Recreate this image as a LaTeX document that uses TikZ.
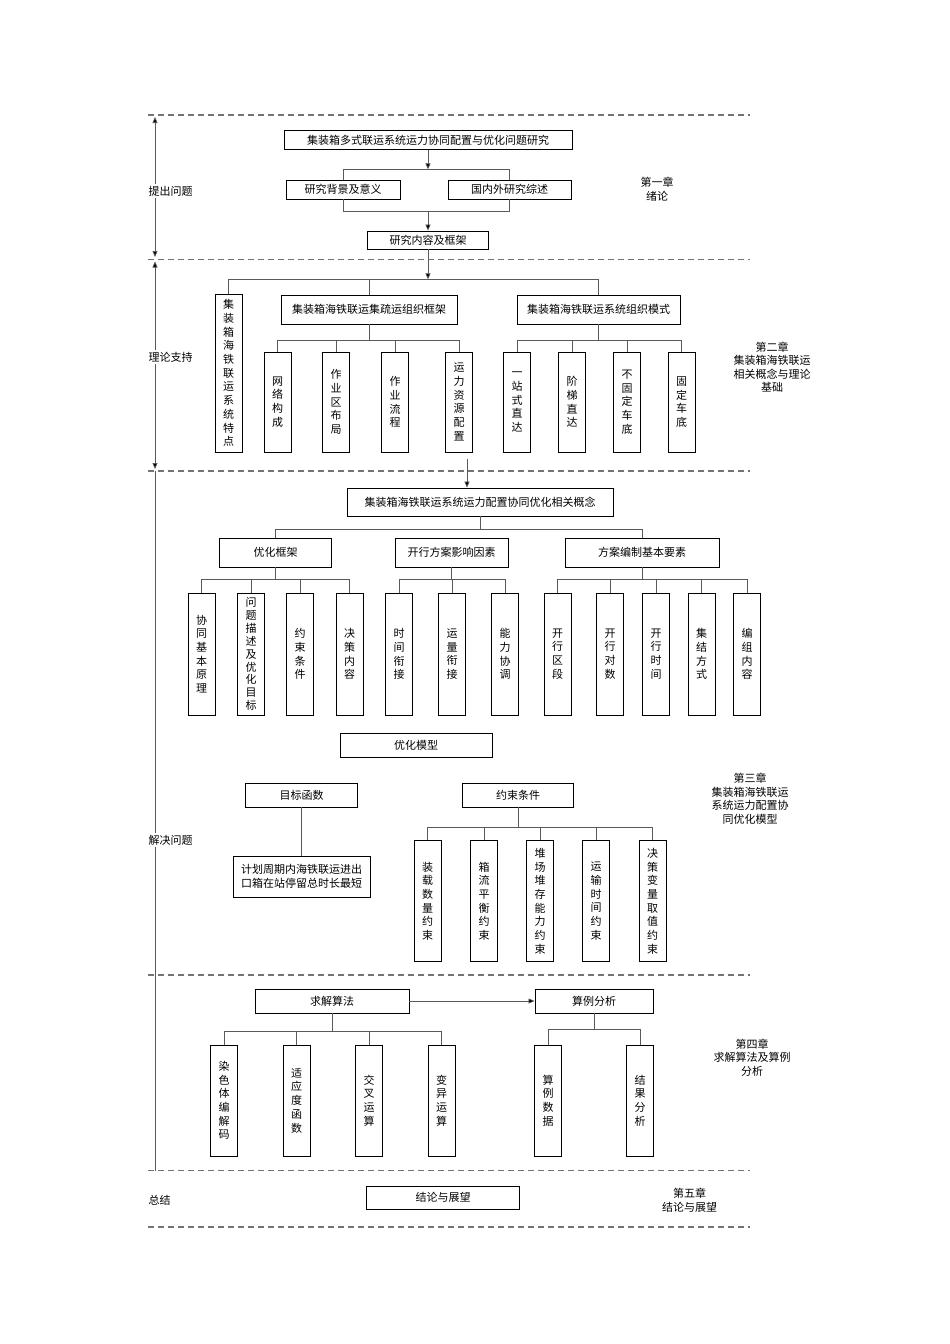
\documentclass[tikz,border=0pt]{standalone}
\usepackage{fontspec}
\setmainfont{Noto Sans CJK SC}
\usetikzlibrary{arrows.meta}
\begin{document}
\begin{tikzpicture}[x=1pt,y=-1pt,
  hbox/.style={draw=black,line width=0.9pt,inner sep=0pt,font=\fontsize{11}{13.5}\selectfont,align=center},
  vbox/.style={draw=black,line width=0.9pt,inner sep=0pt,minimum width=27pt,font=\fontsize{11}{13.7}\selectfont,align=center},
  conn/.style={draw=black!65,line width=0.7pt},
  arr/.style={conn,-{Triangle[width=5pt,length=6pt,fill=black]}},
  darr/.style={conn,{Triangle[width=5pt,length=6pt,fill=black]}-{Triangle[width=5pt,length=6pt,fill=black]}},
  sepline/.style={draw=black!55,line width=1.2pt,dash pattern=on 6pt off 4pt},
  lab/.style={font=\fontsize{11}{13.5}\selectfont,align=center},
  sidelab/.style={font=\fontsize{11}{13.5}\selectfont,fill=white,inner sep=1.5pt,anchor=west}]
\useasboundingbox[fill=white] (0,0) rectangle (950,1344);

% ---------- separators ----------
\draw[sepline] (148,115) -- (750,115);
\draw[sepline] (148,259.3) -- (750,259.3);
\draw[sepline] (148,471) -- (750,471);
\draw[sepline] (148,975) -- (750,975);
\draw[sepline] (148,1170.7) -- (750,1170.7);
\draw[sepline] (148,1227) -- (750,1227);

% ---------- left axis ----------
\coordinate (p1) at (155,117);
\coordinate (p2) at (155,257);
\coordinate (p3) at (155,261.5);
\coordinate (p4) at (155,469);
\coordinate (p5) at (155,471);
\coordinate (p6) at (155,1170.7);
\draw[darr] (p1) -- (p2);
\draw[darr] (p3) -- (p4);
\draw[conn] (p5) -- (p6);
\node[sidelab] (L1) at (147,191) {提出问题};
\node[sidelab] (L2) at (147,357) {理论支持};
\node[sidelab] (L3) at (147,840) {解决问题};
\node[sidelab] (L4) at (147,1200) {总结};

% ---------- chapter labels ----------
\node[lab] (C1) at (657,189) {第一章\\绪论};
\node[lab] (C2) at (772,367) {第二章\\集装箱海铁联运\\相关概念与理论\\基础};
\node[lab] (C3) at (750,798.5) {第三章\\集装箱海铁联运\\系统运力配置协\\同优化模型};
\node[lab] (C4) at (752,1057.5) {第四章\\求解算法及算例\\分析};
\node[lab] (C5) at (689.5,1200) {第五章\\结论与展望};

% ---------- chapter 1 ----------
\node[hbox,minimum width=288pt,minimum height=19pt] (t1) at (428,140) {集装箱多式联运系统运力协同配置与优化问题研究};
\node[hbox,minimum width=114pt,minimum height=19pt] (b1) at (343,189.5) {研究背景及意义};
\node[hbox,minimum width=123pt,minimum height=19pt] (b2) at (509.5,189.5) {国内外研究综述};
\node[hbox,minimum width=121pt,minimum height=18pt] (b3) at (428,240) {研究内容及框架};
\coordinate (bus1) at (428,169.3);
\coordinate (bus2) at (428,211.7);
\draw[arr] (t1.south) -- (bus1);
\draw[conn] (b1.north) -- (b1.north |- bus1) -- (b2.north |- bus1) -- (b2.north);
\draw[conn] (b1.south) -- (b1.south |- bus2) -- (b2.south |- bus2) -- (b2.south);
\draw[arr] (bus2) -- (b3.north);

% ---------- chapter 2 ----------
\node[vbox,minimum height=158pt] (v0) at (228.5,373) {集\\装\\箱\\海\\铁\\联\\运\\系\\统\\特\\点};
\node[hbox,minimum width=176pt,minimum height=29pt] (A) at (369,309.5) {集装箱海铁联运集疏运组织框架};
\node[hbox,minimum width=163pt,minimum height=29pt] (B) at (598.5,309.5) {集装箱海铁联运系统组织模式};
\coordinate (bus3) at (428,279.3);
\draw[arr] (b3.south) -- (bus3);
\draw[conn] (v0.north) -- (v0.north |- bus3) -- (B.north |- bus3) -- (B.north);
\draw[conn] (A.north) -- (A.north |- bus3);

\node[vbox,minimum height=100pt] (a1) at (277.5,402) {网\\络\\构\\成};
\node[vbox,minimum height=100pt] (a2) at (336,402) {作\\业\\区\\布\\局};
\node[vbox,minimum height=100pt] (a3) at (395,402) {作\\业\\流\\程};
\node[vbox,minimum height=100pt] (a4) at (459,402) {运\\力\\资\\源\\配\\置};
\coordinate (busA) at (369,340);
\draw[conn] (A.south) -- (busA);
\draw[conn] (a1.north) -- (a1.north |- busA) -- (a4.north |- busA) -- (a4.north);
\draw[conn] (a2.north) -- (a2.north |- busA);
\draw[conn] (a3.north) -- (a3.north |- busA);

\node[vbox,minimum height=100pt] (m1) at (517,402) {一\\站\\式\\直\\达};
\node[vbox,minimum height=100pt] (m2) at (572,402) {阶\\梯\\直\\达};
\node[vbox,minimum height=100pt] (m3) at (627,402) {不\\固\\定\\车\\底};
\node[vbox,minimum height=100pt] (m4) at (681.5,402) {固\\定\\车\\底};
\coordinate (busB) at (598.5,340);
\draw[conn] (B.south) -- (busB);
\draw[conn] (m1.north) -- (m1.north |- busB) -- (m4.north |- busB) -- (m4.north);
\draw[conn] (m2.north) -- (m2.north |- busB);
\draw[conn] (m3.north) -- (m3.north |- busB);

% ---------- chapter 3 ----------
\node[hbox,minimum width=266pt,minimum height=28pt] (t3) at (480,502) {集装箱海铁联运系统运力配置协同优化相关概念};
\coordinate (s3in) at (467,459);
\draw[arr] (s3in) -- (s3in |- t3.north);

\node[hbox,minimum width=112pt,minimum height=29pt] (g1) at (275.6,552.5) {优化框架};
\node[hbox,minimum width=113pt,minimum height=29pt] (g2) at (451.5,552.5) {开行方案影响因素};
\node[hbox,minimum width=154pt,minimum height=29pt] (g3) at (642,552.5) {方案编制基本要素};
\coordinate (bus4) at (480,529);
\draw[conn] (t3.south) -- (bus4);
\draw[conn] (g1.north) -- (g1.north |- bus4) -- (g3.north |- bus4) -- (g3.north);

\coordinate (bus5) at (275.6,579.3);
\node[vbox,minimum height=122pt] (k1) at (201.6,654) {协\\同\\基\\本\\原\\理};
\node[vbox,minimum height=122pt,font=\fontsize{11}{12.9}\selectfont] (k2) at (251,654) {问\\题\\描\\述\\及\\优\\化\\目\\标};
\node[vbox,minimum height=122pt] (k3) at (300,654) {约\\束\\条\\件};
\node[vbox,minimum height=122pt] (k4) at (349.6,654) {决\\策\\内\\容};
\draw[conn] (g1.south) -- (bus5);
\draw[conn] (k1.north) -- (k1.north |- bus5) -- (k4.north |- bus5) -- (k4.north);
\draw[conn] (k2.north) -- (k2.north |- bus5);
\draw[conn] (k3.north) -- (k3.north |- bus5);

\coordinate (bus6) at (451.5,579.3);
\node[vbox,minimum height=122pt] (n1) at (399,654) {时\\间\\衔\\接};
\node[vbox,minimum height=122pt] (n2) at (452,654) {运\\量\\衔\\接};
\node[vbox,minimum height=122pt] (n3) at (505,654) {能\\力\\协\\调};
\draw[conn] (g2.south) -- (bus6);
\draw[conn] (n1.north) -- (n1.north |- bus6) -- (n3.north |- bus6) -- (n3.north);
\draw[conn] (n2.north) -- (n2.north |- bus6);

\coordinate (bus7) at (642,579.3);
\node[vbox,minimum height=122pt] (r1) at (557.7,654) {开\\行\\区\\段};
\node[vbox,minimum height=122pt] (r2) at (610,654) {开\\行\\对\\数};
\node[vbox,minimum height=122pt] (r3) at (656,654) {开\\行\\时\\间};
\node[vbox,minimum height=122pt] (r4) at (701.6,654) {集\\结\\方\\式};
\node[vbox,minimum height=122pt] (r5) at (747,654) {编\\组\\内\\容};
\draw[conn] (g3.south) -- (bus7);
\draw[conn] (r1.north) -- (r1.north |- bus7) -- (r5.north |- bus7) -- (r5.north);
\draw[conn] (r2.north) -- (r2.north |- bus7);
\draw[conn] (r3.north) -- (r3.north |- bus7);
\draw[conn] (r4.north) -- (r4.north |- bus7);

\node[hbox,minimum width=152pt,minimum height=24pt] (mo) at (416,745) {优化模型};
\node[hbox,minimum width=112pt,minimum height=24pt] (f) at (301.6,795) {目标函数};
\node[hbox,minimum width=137pt,minimum height=41pt] (fc) at (301.6,876.5) {计划周期内海铁联运进出\\口箱在站停留总时长最短};
\draw[conn] (f.south) -- (fc.north);
\node[hbox,minimum width=111pt,minimum height=24pt] (c) at (518,795) {约束条件};
\coordinate (bus8) at (518,827);
\node[vbox,minimum height=121pt] (q1) at (427.6,901.2) {装\\载\\数\\量\\约\\束};
\node[vbox,minimum height=121pt] (q2) at (484,901.2) {箱\\流\\平\\衡\\约\\束};
\node[vbox,minimum height=121pt] (q3) at (540,901.2) {堆\\场\\堆\\存\\能\\力\\约\\束};
\node[vbox,minimum height=121pt] (q4) at (596,901.2) {运\\输\\时\\间\\约\\束};
\node[vbox,minimum height=121pt] (q5) at (652.7,901.2) {决\\策\\变\\量\\取\\值\\约\\束};
\draw[conn] (c.south) -- (bus8);
\draw[conn] (q1.north) -- (q1.north |- bus8) -- (q5.north |- bus8) -- (q5.north);
\draw[conn] (q2.north) -- (q2.north |- bus8);
\draw[conn] (q3.north) -- (q3.north |- bus8);
\draw[conn] (q4.north) -- (q4.north |- bus8);

% ---------- chapter 4 ----------
\node[hbox,minimum width=154pt,minimum height=24pt] (s) at (332,1001) {求解算法};
\node[hbox,minimum width=118pt,minimum height=24pt] (e) at (594,1001) {算例分析};
\draw[arr] (s.east) -- (e.west);
\coordinate (bus9) at (332,1031.7);
\node[vbox,minimum height=111pt] (w1) at (224,1100.5) {染\\色\\体\\编\\解\\码};
\node[vbox,minimum height=111pt] (w2) at (296.7,1100.5) {适\\应\\度\\函\\数};
\node[vbox,minimum height=111pt] (w3) at (369,1100.5) {交\\叉\\运\\算};
\node[vbox,minimum height=111pt] (w4) at (441.5,1100.5) {变\\异\\运\\算};
\draw[conn] (s.south) -- (bus9);
\draw[conn] (w1.north) -- (w1.north |- bus9) -- (w4.north |- bus9) -- (w4.north);
\draw[conn] (w2.north) -- (w2.north |- bus9);
\draw[conn] (w3.north) -- (w3.north |- bus9);
\coordinate (bus10) at (594,1029);
\node[vbox,minimum height=111pt] (x1) at (548,1100.5) {算\\例\\数\\据};
\node[vbox,minimum height=111pt] (x2) at (640,1100.5) {结\\果\\分\\析};
\draw[conn] (e.south) -- (bus10);
\draw[conn] (x1.north) -- (x1.north |- bus10) -- (x2.north |- bus10) -- (x2.north);

% ---------- chapter 5 ----------
\node[hbox,minimum width=153pt,minimum height=23pt] (z) at (443,1197.5) {结论与展望};
\end{tikzpicture}
\end{document}
